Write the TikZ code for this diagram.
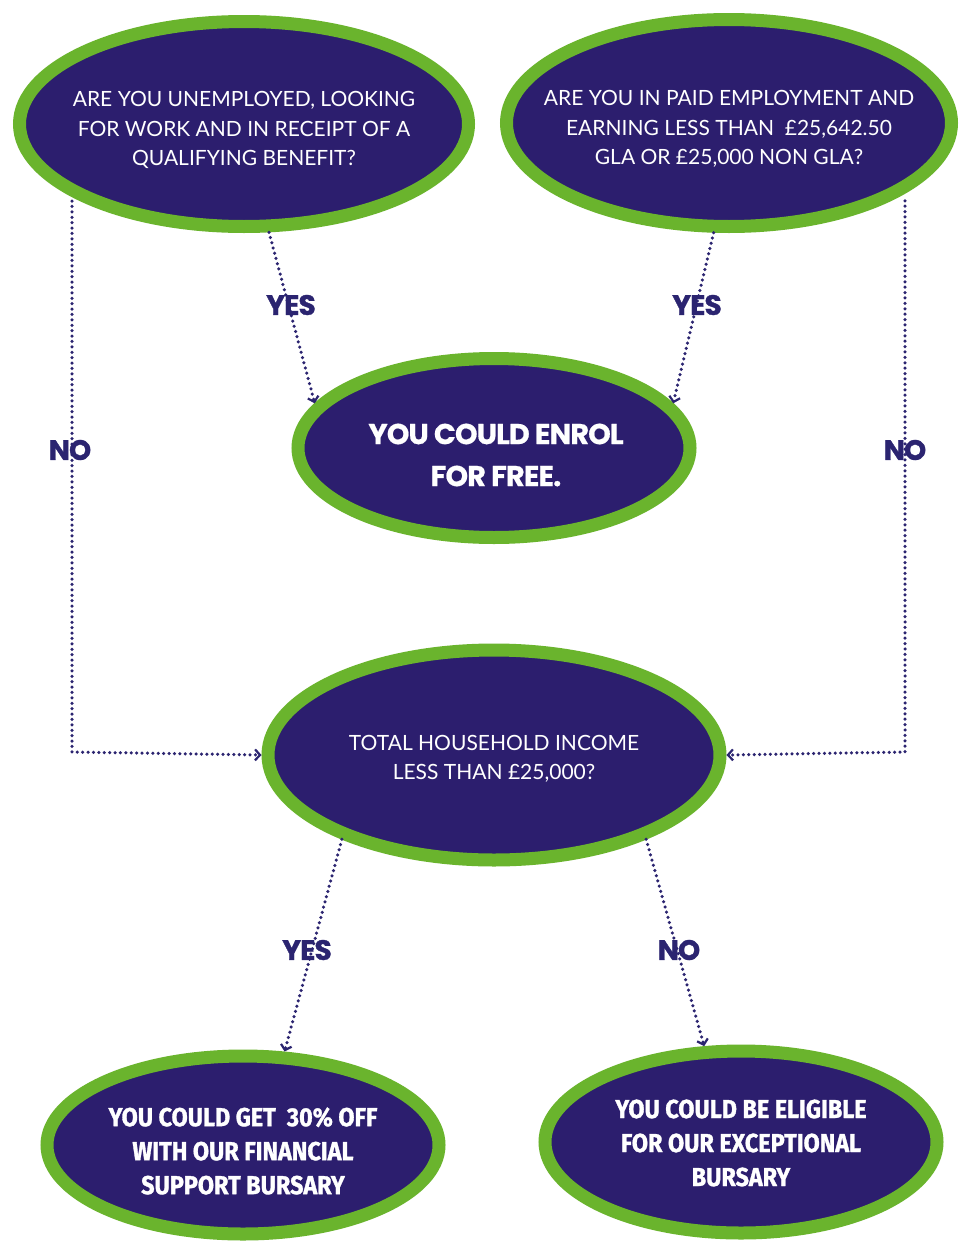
\documentclass[tikz,border=0pt]{standalone}
\usepackage{fontspec}
\setmainfont{Lato}
\newfontfamily\qfont{Lato}
\newfontfamily\condfont{Lato}
\newfontfamily\heavyfont{Poppins}[LetterSpace=-3, BoldFeatures={FakeBold=0.6}]
\newfontfamily\labfont{Poppins}[LetterSpace=-3, BoldFeatures={FakeBold=1.2}]
\newfontfamily\bcond{Fira Sans}[FakeStretch=0.9, BoldFeatures={FakeBold=1.2}]
\usetikzlibrary{shapes.geometric,arrows.meta}
\definecolor{ink}{HTML}{2C1E6E}
\definecolor{leaf}{HTML}{6AB42D}
\definecolor{navy}{HTML}{2B2470}
\tikzset{
  bub/.style={ellipse, draw=leaf, line width=13pt, fill=ink, inner sep=0pt},
  txt/.style={text=white, align=center, inner sep=0pt},
  conn/.style={draw=navy, line width=3.5pt, line cap=round, dash pattern=on 0pt off 5.4pt,
    -{Straight Barb[length=5pt,width=11pt,line width=2.2pt]}},
  lab/.style={text=navy, font=\labfont\bfseries\fontsize{28}{28}\selectfont},
  qtext/.style={txt, font=\qfont\fontsize{21}{29.5}\selectfont},
  ctext/.style={txt, font=\condfont\fontsize{21}{29}\selectfont},
  btext/.style={txt, font=\heavyfont\bfseries\fontsize{28.7}{42}\selectfont},
  dtext/.style={txt, font=\bcond\bfseries\fontsize{26}{34}\selectfont}
}
\begin{document}
\begin{tikzpicture}[x=1pt,y=-1pt]
\useasboundingbox[fill=white] (0,0) rectangle (961,1242);
% bubbles
\node[bub, minimum width=449pt, minimum height=205pt] (q1) at (244,124) {};
\node[bub, minimum width=445pt, minimum height=207pt] (q2) at (729,123) {};
\node[bub, minimum width=392pt, minimum height=179pt] (enrol) at (494,448) {};
\node[bub, minimum width=452pt, minimum height=210pt] (inc) at (494,755) {};
\node[bub, minimum width=392pt, minimum height=178pt] (b1) at (243,1145) {};
\node[bub, minimum width=392pt, minimum height=182pt] (b2) at (741,1142) {};
% texts
\node[qtext] (q1t) at (244,130)
  {ARE YOU UNEMPLOYED, LOOKING\\FOR WORK AND IN RECEIPT OF A\\QUALIFYING BENEFIT?};
\node[qtext] (q2t) at (729,129)
  {ARE YOU IN PAID EMPLOYMENT AND\\EARNING LESS THAN\ \ £25,642.50\\GLA OR £25,000 NON GLA?};
\node[btext] (enrolt) at (496,455) {YOU COULD ENROL\\FOR FREE.};
\node[ctext] (inct) at (494,759) {TOTAL HOUSEHOLD INCOME\\LESS THAN £25,000?};
\node[dtext] (b1t) at (243,1151)
  {YOU COULD GET\ \ 30\% OFF\\WITH OUR FINANCIAL\\SUPPORT BURSARY};
\node[dtext] (b2t) at (741,1143)
  {YOU COULD BE ELIGIBLE\\FOR OUR EXCEPTIONAL\\BURSARY};
% connectors
\coordinate (nl) at (72,752);
\coordinate (nr) at (905,752);
\draw[conn] (nl |- q1.south west) -- (nl) -- (inc.west);
\draw[conn] (nr |- q2.south east) -- (nr) -- (inc.east);
\draw[conn] (q1.283) -- (enrol.166);
\draw[conn] (q2.262) -- (enrol.14);
\draw[conn] (inc.209) -- (b1.66);
\draw[conn] (inc.331) -- (b2.111);
% labels
\node[lab] (y1) at (291,305) {YES};
\node[lab] (y2) at (697,305) {YES};
\node[lab] (n1) at (70,450) {NO};
\node[lab] (n2) at (905,450) {NO};
\node[lab] (y3) at (307,950) {YES};
\node[lab] (n3) at (679,950) {NO};
\end{tikzpicture}
\end{document}
